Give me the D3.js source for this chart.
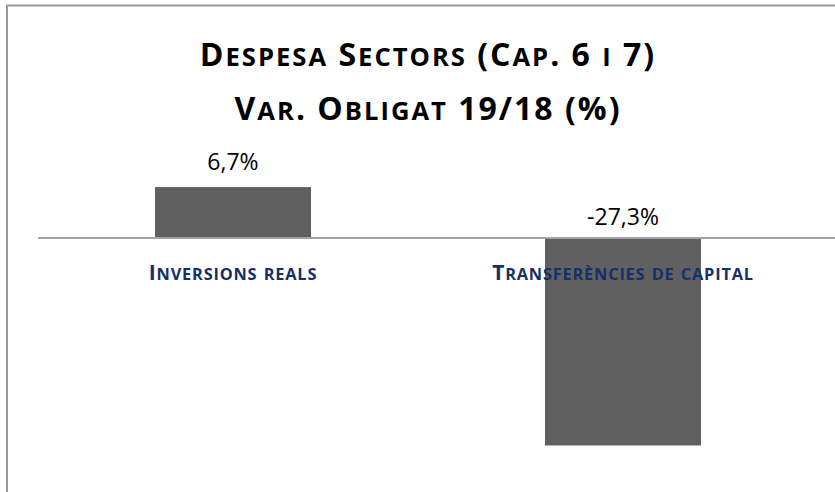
<!DOCTYPE html>
<html>
<head>
<meta charset="utf-8">
<script src="https://cdn.jsdelivr.net/npm/d3@7"></script>
<style>
  body { margin: 0; background: #fff; }
  svg { display: block; }
</style>
</head>
<body>
<div id="graph"></div>
<script>
'use strict';

// chart data
const titleLines = ["Despesa Sectors (Cap. 6 i 7)", "Var. Obligat 19/18 (%)"];
const categories = ["Inversions reals", "Transferències de capital"];
const values = [6.7, -27.3];
const valueLabels = ["6,7%", "-27,3%"];

const width = 835, height = 492;
const font = "'Open Sans', Lato, sans-serif";

const svg = d3.select('#graph')
  .append('svg')
  .attr('width', width)
  .attr('height', height);

// write a string as small caps: lower case letters become smaller capitals
function smallCaps(textSel, str, size, ratio) {
  let runs = [];
  for (let ch of str) {
    let isLower = ch !== ch.toUpperCase();
    let last = runs[runs.length - 1];
    if (last && last.small === isLower) {
      last.text += ch;
    } else {
      runs.push({ text: ch, small: isLower });
    }
  }
  runs.forEach(r => {
    textSel.append('tspan')
      .style('font-size', (r.small ? size * ratio : size) + 'px')
      .text(r.small ? r.text.toUpperCase() : r.text);
  });
}

// chart frame (right and bottom edges fall outside the window)
svg.append('path')
  .attr('d', 'M7,' + (height + 5) + 'V5.5H' + (width + 5))
  .attr('fill', 'none')
  .attr('stroke', '#9a9a9a')
  .attr('stroke-width', 2);

// title
titleLines.forEach((line, i) => {
  let t = svg.append('text')
    .attr('x', 428)
    .attr('y', 66 + i * 54)
    .attr('text-anchor', 'middle')
    .style('font-family', font)
    .style('font-weight', 'bold')
    .style('letter-spacing', '2px')
    .style('fill', '#000');
  smallCaps(t, line, 32, 0.8);
});

// scales
const x = d3.scaleBand()
  .domain(categories)
  .range([38, 818])
  .paddingInner(0.6)
  .paddingOuter(0.3);

const y = d3.scaleLinear()
  .domain([-30, 10])
  .range([466, 162]);

// bars
svg.selectAll('.bar')
  .data(values)
  .enter()
  .append('rect')
    .attr('class', 'bar')
    .attr('x', (d, i) => x(categories[i]))
    .attr('y', d => y(Math.max(0, d)))
    .attr('width', x.bandwidth())
    .attr('height', d => Math.abs(y(d) - y(0)))
    .attr('fill', '#606060');

// zero axis line
svg.append('line')
  .attr('x1', 38)
  .attr('x2', width)
  .attr('y1', y(0))
  .attr('y2', y(0))
  .attr('stroke', '#a3a3a3')
  .attr('stroke-width', 2);

// value labels
svg.selectAll('.valueLabel')
  .data(values)
  .enter()
  .append('text')
    .attr('class', 'valueLabel')
    .attr('x', (d, i) => x(categories[i]) + x.bandwidth() / 2)
    .attr('y', d => d >= 0 ? y(d) - 17 : y(0) - 13)
    .attr('text-anchor', 'middle')
    .style('font-family', font)
    .style('font-size', '23px')
    .style('fill', '#000')
    .text((d, i) => valueLabels[i]);

// category labels
categories.forEach(c => {
  let t = svg.append('text')
    .attr('class', 'catLabel')
    .attr('x', x(c) + x.bandwidth() / 2)
    .attr('y', 280)
    .attr('text-anchor', 'middle')
    .style('font-family', font)
    .style('font-weight', 'bold')
    .style('letter-spacing', '0.8px')
    .style('fill', '#13306a');
  smallCaps(t, c, 21, 0.78);
});
</script>
</body>
</html>
